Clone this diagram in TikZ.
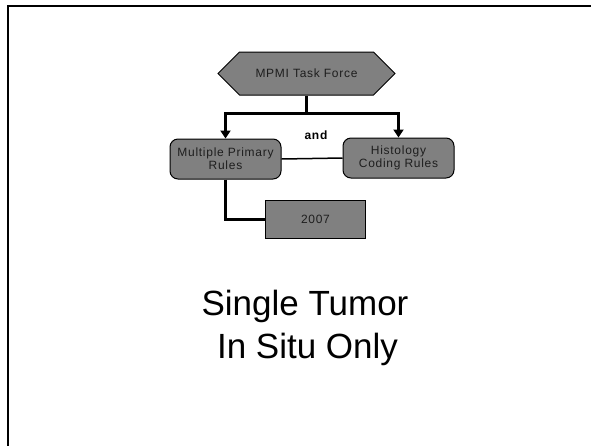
\documentclass[tikz,border=0pt]{standalone}
\usepackage{fontspec}
\setmainfont{Liberation Sans}
\newfontfamily\boxfont[LetterSpace=6]{Liberation Sans}
\usepackage{xcolor}
\usetikzlibrary{positioning,arrows.meta,shapes.symbols}
\definecolor{cbox}{RGB}{128,128,128}
\definecolor{ctext}{RGB}{30,30,30}

\begin{document}
\begin{tikzpicture}[
  x=1pt,y=-1pt,
  font=\boxfont\fontsize{12}{13}\selectfont,
  hexbox/.style={shape=signal,signal to=west and east,draw=black,line width=1pt,fill=cbox,text=ctext,minimum width=177pt,minimum height=43pt,inner sep=0pt},
  rulebox/.style={draw=black,line width=1pt,fill=cbox,text=ctext,rounded corners=8pt,minimum width=111pt,minimum height=40pt,inner sep=0pt,align=center},
  yearbox/.style={draw=black,line width=1pt,fill=cbox,text=ctext,minimum width=100pt,minimum height=38pt,inner sep=0pt},
  link/.style={line width=2.2pt},
  feed/.style={line width=2.2pt,-{Triangle[length=8pt,width=10pt]}},
  tie/.style={line width=1.5pt},
  bigtxt/.style={font=\fontsize{35}{43}\selectfont,inner sep=0pt,anchor=base},
]
\useasboundingbox (0,0) rectangle (591,445);
\begin{scope}
\clip (0,0) rectangle (591,445);
\draw[line width=2pt] (8,6) rectangle (640,500);
\end{scope}

% task force and the two rule sets
\node[hexbox] (mpmi) at (306.5,73.5) {MPMI Task Force};
\node[rulebox,below=43pt of mpmi,xshift=-81pt] (mpr) {Multiple Primary\\Rules};
\node[rulebox,below=42pt of mpmi,xshift=92pt] (hist) {Histology\\Coding Rules};
\node[yearbox,below=20.5pt of mpr,xshift=90pt] (yr) {2007};

\draw[link] (mpmi.south) -- ++(0,18) coordinate (split);
\draw[feed] (split) -| (mpr.north);
\draw[feed] (split) -| (hist.north);
\draw[tie] (mpr.east) -- (hist.west);
\draw[link] (mpr.south) |- (yr.west);

\node[font=\boxfont\bfseries\fontsize{12}{13}\selectfont] (andlbl) at (316,135) {and};

% caption
\node[bigtxt] (tumor) at (305,315) {Single Tumor};
\node[bigtxt] (situ) at (307.5,358) {In Situ Only};
\end{tikzpicture}
\end{document}
